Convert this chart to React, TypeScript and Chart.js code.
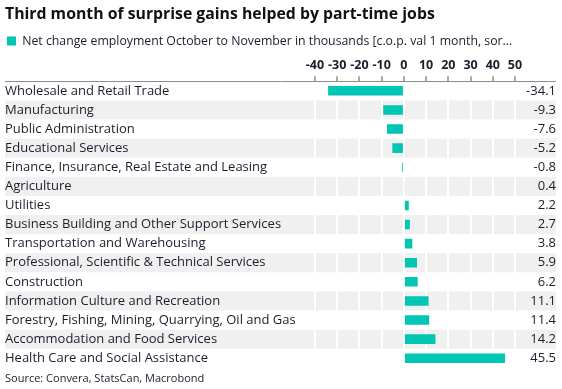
import React, { useEffect, useRef } from 'react';
import { Chart, registerables } from 'chart.js';

Chart.register(...registerables);

const titleText = 'Third month of surprise gains helped by part-time jobs';
const legendLabel = 'Net change employment October to November in thousands [c.o.p. val 1 month, sor...';
const sourceText = 'Source: Convera, StatsCan, Macrobond';

const categories = [
  'Wholesale and Retail Trade',
  'Manufacturing',
  'Public Administration',
  'Educational Services',
  'Finance, Insurance, Real Estate and Leasing',
  'Agriculture',
  'Utilities',
  'Business Building and Other Support Services',
  'Transportation and Warehousing',
  'Professional, Scientific & Technical Services',
  'Construction',
  'Information Culture and Recreation',
  'Forestry, Fishing, Mining, Quarrying, Oil and Gas',
  'Accommodation and Food Services',
  'Health Care and Social Assistance',
];

const values = [-34.1, -9.3, -7.6, -5.2, -0.8, 0.4, 2.2, 2.7, 3.8, 5.9, 6.2, 11.1, 11.4, 14.2, 45.5];

const xTicks = [-40, -30, -20, -10, 0, 10, 20, 30, 40, 50];

const FONT = "'Open Sans', 'Noto Sans', sans-serif";
const BAR_COLOR = '#00c6b3';
const BAND_COLOR = '#f0f0f0';
const TEXT_COLOR = '#1c1c2c';

const bandsPlugin = {
  id: 'bands',
  beforeDraw(chart: any) {
    const { ctx, chartArea } = chart;
    const y = chart.scales.y;
    const left = chart.scales.y.left;
    const right = chart.scales.y2.right;
    const n = categories.length;
    const rowH = chartArea.height / n;
    ctx.save();
    ctx.fillStyle = BAND_COLOR;
    for (let i = 1; i < n; i += 2) {
      const cy = y.getPixelForValue(i);
      ctx.fillRect(left, cy - rowH / 2, right - left, rowH);
    }
    ctx.restore();
  },
  afterDraw(chart: any) {
    const { ctx, chartArea } = chart;
    const left = chart.scales.y.left;
    const right = chart.scales.y2.right;
    ctx.save();
    ctx.strokeStyle = '#8c8c8c';
    ctx.lineWidth = 1;
    ctx.beginPath();
    ctx.moveTo(left, Math.round(chartArea.top) + 0.5);
    ctx.lineTo(right, Math.round(chartArea.top) + 0.5);
    ctx.stroke();
    ctx.restore();
  },
};

export default function App() {
  const canvasRef = useRef<HTMLCanvasElement | null>(null);

  useEffect(() => {
    const canvas = canvasRef.current;
    if (!canvas) return;
    const chart = new Chart(canvas, {
      type: 'bar',
      data: {
        labels: categories,
        datasets: [
          {
            label: legendLabel,
            data: values,
            backgroundColor: BAR_COLOR,
            borderWidth: 0,
            barPercentage: 0.5,
            categoryPercentage: 1,
          },
        ],
      },
      options: {
        indexAxis: 'y',
        animation: false,
        responsive: false,
        maintainAspectRatio: false,
        layout: { padding: { left: 5, right: 6, top: 0, bottom: 2 } },
        scales: {
          x: {
            type: 'linear',
            position: 'top',
            min: xTicks[0],
            max: xTicks[xTicks.length - 1],
            afterBuildTicks(scale: any) {
              scale.ticks = xTicks.map((v) => ({ value: v }));
            },
            afterFit(scale: any) {
              scale.height = 24;
            },
            ticks: {
              autoSkip: false,
              maxRotation: 0,
              color: TEXT_COLOR,
              font: { family: FONT, size: 12.5, weight: 'bold' },
              padding: 3,
              callback: (v: any) => String(v),
            },
            grid: {
              color: '#ffffff',
              lineWidth: 2,
              drawTicks: true,
              tickLength: 5,
              tickColor: '#555555',
              tickWidth: 1,
            },
            border: { display: false },
          },
          y: {
            type: 'category',
            position: 'left',
            grid: { display: false },
            border: { display: false },
            ticks: {
              crossAlign: 'far',
              color: TEXT_COLOR,
              font: { family: FONT, size: 13 },
              autoSkip: false,
            },
            afterFit(scale: any) {
              scale.width = 310;
            },
          },
          y2: {
            type: 'category',
            position: 'right',
            labels: values.map((v) => v.toFixed(1)),
            offset: true,
            grid: { display: false },
            border: { display: false },
            ticks: {
              crossAlign: 'far',
              color: TEXT_COLOR,
              font: { family: FONT, size: 13 },
              autoSkip: false,
            },
            afterFit(scale: any) {
              scale.width = 41;
            },
          },
        },
        plugins: {
          title: {
            display: true,
            text: titleText,
            align: 'start',
            color: '#111111',
            font: { family: FONT, size: 15.8, weight: 'bold' },
            padding: { top: 5, bottom: 9 },
          },
          legend: {
            display: true,
            align: 'start',
            labels: {
              boxWidth: 9,
              boxHeight: 9,
              color: TEXT_COLOR,
              font: { family: FONT, size: 12.3 },
              padding: 2,
            },
          },
          subtitle: {
            display: true,
            text: sourceText,
            position: 'bottom',
            align: 'start',
            color: TEXT_COLOR,
            font: { family: FONT, size: 11 },
            padding: { top: 4, bottom: 2 },
          },
          tooltip: { enabled: false },
        },
      },
      plugins: [bandsPlugin],
    } as any);
    return () => chart.destroy();
  }, []);

  return (
    <div style={{ position: 'fixed', left: 0, top: 0, width: 562, height: 389, background: '#ffffff' }}>
      <canvas ref={canvasRef} width={562} height={389} style={{ width: 562, height: 389 }} />
    </div>
  );
}
